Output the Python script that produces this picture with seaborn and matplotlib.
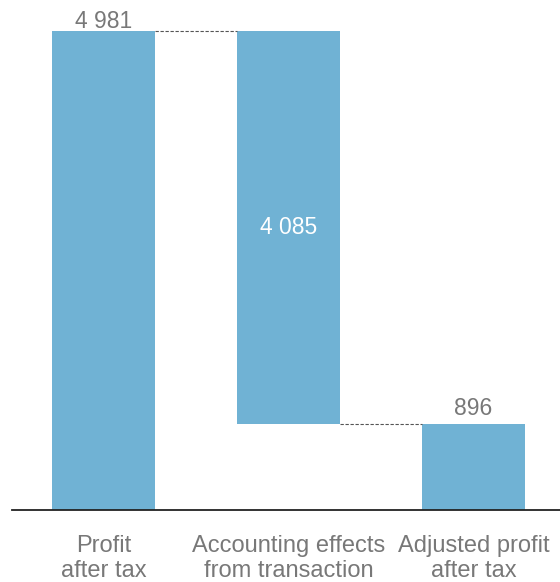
import matplotlib.pyplot as plt
import numpy as np
import pandas as pd
import seaborn as sns

# Chart values
CATEGORIES = ["Profit\nafter tax", "Accounting effects\nfrom transaction", "Adjusted profit\nafter tax"]
BOTTOMS = [0, 896, 0]
HEIGHTS = [4981, 4085, 896]
LABELS = ["4 981", "4 085", "896"]

BAR_COLOR = "#70b2d4"
TEXT_COLOR = "#787878"


def main():
    plt.rcParams["font.family"] = ["Liberation Sans", "DejaVu Sans"]
    data = pd.DataFrame({"Category": CATEGORIES, "Value": HEIGHTS})

    fig = plt.figure(figsize=(5.6, 5.82), dpi=100)
    ax = fig.add_axes([12 / 560, 72 / 582, 548 / 560, 500 / 582])

    sns.barplot(
        data=data,
        x="Category",
        y="Value",
        color=BAR_COLOR,
        saturation=1,
        width=0.557,
        bottom=BOTTOMS,
        ax=ax,
    )

    tops = np.add(BOTTOMS, HEIGHTS)
    half = 0.557 / 2
    # connector lines between bars
    for i in range(len(CATEGORIES) - 1):
        level = tops[i] if i == 0 else BOTTOMS[i]
        ax.plot(
            [i + half, i + 1 - half],
            [level, level],
            linestyle=(0, (3, 1.5)),
            color="#555555",
            linewidth=0.8,
        )

    ax.text(0, tops[0] + 30, LABELS[0], ha="center", va="baseline", color=TEXT_COLOR, fontsize=16.5)
    ax.text(1, BOTTOMS[1] + HEIGHTS[1] / 2, LABELS[1], ha="center", va="center", color="white", fontsize=16.5)
    ax.text(2, tops[2] + 94, LABELS[2], ha="center", va="baseline", color=TEXT_COLOR, fontsize=16.5)

    ax.set_xlim(-0.495, 2.468)
    ax.set_ylim(0, 500 / 0.0962)
    ax.set(xlabel="", ylabel="", yticks=[])
    for side in ("top", "right", "left"):
        ax.spines[side].set_visible(False)
    ax.spines["bottom"].set_color("#222222")
    ax.spines["bottom"].set_linewidth(1.3)
    ax.tick_params(axis="x", length=0, pad=18, labelsize=17, labelcolor=TEXT_COLOR)
    for label in ax.get_xticklabels():
        label.set_linespacing(1.2)

    fig.savefig("out.png", dpi=100)


if __name__ == "__main__":
    main()
